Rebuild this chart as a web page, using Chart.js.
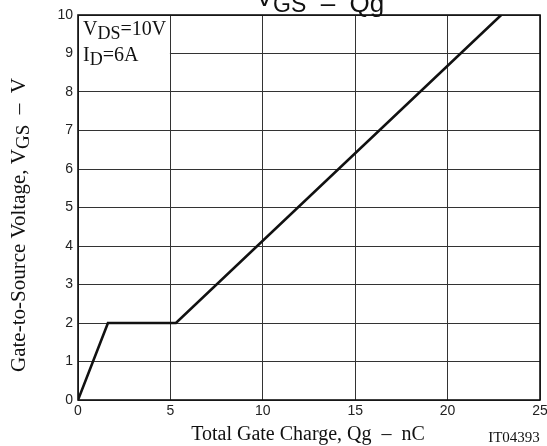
<!DOCTYPE html>
<html>
<head>
<meta charset="utf-8">
<script src="https://cdn.jsdelivr.net/npm/chart.js@4.4.1/dist/chart.umd.min.js"></script>
<style>
  html, body { margin: 0; padding: 0; background: #fff; }
  #wrap { width: 547px; height: 446px; position: relative; }
</style>
</head>
<body>
<div id="wrap"><canvas id="chartVgs" width="547" height="446"></canvas></div>
<script>
// ── Data ──
const qgNc  = [0, 1.62, 5.3, 22.9];
const vgsV  = [0, 2, 2, 10];
const xTicks = [0, 5, 10, 15, 20, 25];
const yTicks = [0, 1, 2, 3, 4, 5, 6, 7, 8, 9, 10];

const SANS  = '"Liberation Sans", Arial, sans-serif';
const SERIF = '"Liberation Serif", "Times New Roman", serif';

// texto con subindices: parts = [[txt, size, dy], ...]
function runText(ctx, parts, x, y, font) {
  let cx = x;
  parts.forEach(([t, s, dy]) => {
    ctx.font = s + 'px ' + font;
    ctx.fillText(t, cx, y + dy);
    cx += ctx.measureText(t).width;
  });
  return cx - x;
}
function runWidth(ctx, parts, font) {
  let w = 0;
  parts.forEach(([t, s]) => {
    ctx.font = s + 'px ' + font;
    w += ctx.measureText(t).width;
  });
  return w;
}

const decor = {
  id: 'decor',
  afterDraw(chart) {
    const { ctx, chartArea: a, scales } = chart;
    ctx.save();
    ctx.fillStyle = '#111';
    ctx.textBaseline = 'alphabetic';
    ctx.textAlign = 'left';

    // titulo
    const tParts = [['V', 26, -6], ['GS', 23, 0], ['  –  Qg', 26, 0]];
    const tw = runWidth(ctx, tParts, SANS);
    runText(ctx, tParts, 320 - tw / 2, 12, SANS);

    // fondo blanco de las condiciones
    const x5 = scales.x.getPixelForValue(5);
    ctx.fillStyle = '#fff';
    ctx.fillRect(a.left + 1, a.top + 1, x5 - a.left - 1.5, 60);
    ctx.fillStyle = '#111';
    runText(ctx, [['V', 20, 0], ['DS', 18, 4], ['=10V', 20, 0]], a.left + 5, 35, SERIF);
    runText(ctx, [['I', 20, 0], ['D', 18, 4], ['=6A', 20, 0]], a.left + 5, 61, SERIF);

    // borde
    ctx.strokeStyle = '#111';
    ctx.lineWidth = 1.6;
    ctx.strokeRect(a.left, a.top, a.right - a.left, a.bottom - a.top);

    // eje x
    ctx.font = '20px ' + SERIF;
    ctx.textAlign = 'center';
    ctx.fillText('Total Gate Charge, Qg  –  nC', 308, 440);
    ctx.font = '15px ' + SERIF;
    ctx.fillText('IT04393', 514, 442);

    // eje y (rotado)
    ctx.translate(25, 225);
    ctx.rotate(-Math.PI / 2);
    ctx.textAlign = 'left';
    const yParts = [['Gate-to-Source Voltage, V', 21, 0], ['GS', 19, 4], ['  –  V', 21, 0]];
    const yw = runWidth(ctx, yParts, SERIF);
    runText(ctx, yParts, -yw / 2, 0, SERIF);
    ctx.restore();
  }
};

new Chart(document.getElementById('chartVgs'), {
  type: 'scatter',
  data: {
    datasets: [{
      data: qgNc.map((x, i) => ({ x, y: vgsV[i] })),
      showLine: true,
      borderColor: '#111',
      borderWidth: 2.6,
      pointRadius: 0,
      fill: false,
      tension: 0
    }]
  },
  options: {
    responsive: false, animation: false,
    layout: { padding: { top: 15, right: 7, left: 0, bottom: 0 } },
    plugins: { legend: { display: false }, tooltip: { enabled: false } },
    scales: {
      x: {
        type: 'linear', min: 0, max: 25,
        afterBuildTicks: s => { s.ticks = xTicks.map(v => ({ value: v })); },
        afterFit: s => { s.height = 46; s.paddingLeft = 0; s.paddingRight = 0; },
        grid: { color: '#333', lineWidth: 1, drawTicks: false },
        border: { display: false },
        ticks: { color: '#222', padding: 3, font: { family: SANS, size: 14 }, maxRotation: 0 }
      },
      y: {
        type: 'linear', min: 0, max: 10,
        afterBuildTicks: s => { s.ticks = yTicks.map(v => ({ value: v })); },
        afterFit: s => { s.width = 78; s.paddingTop = 0; s.paddingBottom = 0; },
        grid: { color: '#333', lineWidth: 1, drawTicks: false },
        border: { display: false },
        ticks: { color: '#222', padding: 5, font: { family: SANS, size: 14 } }
      }
    }
  },
  plugins: [decor]
});
</script>
</body>
</html>
